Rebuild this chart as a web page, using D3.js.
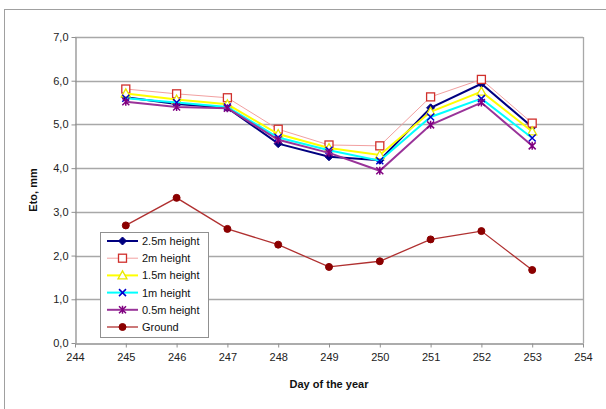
<!DOCTYPE html>
<html><head><meta charset="utf-8">
<script src="https://cdn.jsdelivr.net/npm/d3@7"></script>
<style>
html,body{margin:0;padding:0;background:#fff;}
text{font-family:"Liberation Sans",Arial,sans-serif;}
</style></head>
<body>
<svg id="chart" width="606" height="409"></svg>
<script>
const days = [245, 246, 247, 248, 249, 250, 251, 252, 253];
const seriesNames = ["2.5m height", "2m height", "1.5m height", "1m height", "0.5m height", "Ground"];
const h25 = [5.62, 5.47, 5.38, 4.56, 4.26, 4.18, 5.38, 5.93, 4.94];
const h20 = [5.81, 5.70, 5.61, 4.89, 4.53, 4.51, 5.63, 6.03, 5.03];
const h15 = [5.71, 5.57, 5.46, 4.78, 4.46, 4.30, 5.29, 5.75, 4.84];
const h10 = [5.60, 5.50, 5.40, 4.70, 4.41, 4.17, 5.17, 5.59, 4.69];
const h05 = [5.52, 5.40, 5.37, 4.65, 4.35, 3.94, 4.99, 5.50, 4.51];
const ground = [2.69, 3.32, 2.61, 2.25, 1.74, 1.87, 2.37, 2.56, 1.67];
const xTicks = [244, 245, 246, 247, 248, 249, 250, 251, 252, 253, 254];
const yTicks = [0, 1, 2, 3, 4, 5, 6, 7];

const styles = [
  {line:"#000080", lw:2, marker:"diamond", stroke:"#000080", fill:"#000080"},
  {line:"#f2a0a0", lw:1, marker:"square", stroke:"#d0302c", fill:"#fff"},
  {line:"#ffff00", lw:2, marker:"triangle", stroke:"#e8e800", fill:"#fff"},
  {line:"#00ffff", lw:2, marker:"x", stroke:"#0000cc", fill:"none"},
  {line:"#993399", lw:2, marker:"star", stroke:"#800080", fill:"none"},
  {line:"#b03030", lw:1.3, marker:"circle", stroke:"#8b0000", fill:"#8b0000"}
];
const allData = [h25, h20, h15, h10, h05, ground];

const svg = d3.select("#chart");
const L = 75, R = 583, T = 37, B = 343;
const x = d3.scaleLinear().domain([244, 254]).range([L, R]);
const y = d3.scaleLinear().domain([0, 7]).range([B, T]);

// outer frame
svg.append("rect").attr("x", 4.5).attr("y", 9.5).attr("width", 640).attr("height", 440)
  .attr("fill", "none").attr("stroke", "#a0a0a0").attr("stroke-width", 1);

// gridlines
svg.append("g").selectAll("line").data(yTicks.filter(d => d > 0)).join("line")
  .attr("x1", L).attr("x2", R).attr("y1", d => Math.round(y(d)) + 0.5).attr("y2", d => Math.round(y(d)) + 0.5)
  .attr("stroke", "#a8a8a8").attr("stroke-width", 1.3);
// right border
svg.append("line").attr("x1", R + 0.5).attr("x2", R + 0.5).attr("y1", T).attr("y2", B)
  .attr("stroke", "#a8a8a8").attr("stroke-width", 1.3);

// axes
const yAxis = d3.axisLeft(y).tickValues(yTicks).tickSize(4).tickSizeOuter(0)
  .tickFormat(d => d3.format(".1f")(d).replace(".", ","));
const gy = svg.append("g").attr("transform", `translate(${L + 0.5},0)`).call(yAxis);
const xAxis = d3.axisBottom(x).tickValues(xTicks).tickSize(4).tickSizeOuter(0).tickFormat(d3.format("d"));
const gx = svg.append("g").attr("transform", `translate(0,${Math.round(B) + 0.5})`).call(xAxis);
[gy, gx].forEach(g => {
  g.selectAll(".domain").attr("stroke", "#909090").attr("stroke-width", 1.3);
  g.selectAll(".tick line").attr("stroke", "#909090");
  g.selectAll("text").attr("font-size", 11).attr("fill", "#222");
});
gy.selectAll("text").attr("x", -7);
gx.selectAll("text").attr("y", 10);

// axis titles
svg.append("text").attr("x", (L + R) / 2).attr("y", 388).attr("text-anchor", "middle")
  .attr("font-size", 11).attr("font-weight", "bold").attr("fill", "#111").text("Day of the year");
svg.append("text").attr("transform", `translate(37,${(T + B) / 2}) rotate(-90)`).attr("text-anchor", "middle")
  .attr("font-size", 11).attr("font-weight", "bold").attr("fill", "#111").text("Eto, mm");

function drawMarker(g, type, st, cx, cy) {
  if (type === "diamond") {
    g.append("path").attr("d", `M${cx},${cy-4}L${cx+4},${cy}L${cx},${cy+4}L${cx-4},${cy}Z`)
      .attr("fill", st.fill).attr("stroke", st.stroke);
  } else if (type === "square") {
    g.append("rect").attr("x", cx - 4).attr("y", cy - 4).attr("width", 8).attr("height", 8)
      .attr("fill", st.fill).attr("stroke", st.stroke).attr("stroke-width", 1.3);
  } else if (type === "triangle") {
    g.append("path").attr("d", `M${cx},${cy-4.5}L${cx+4.5},${cy+3.5}L${cx-4.5},${cy+3.5}Z`)
      .attr("fill", st.fill).attr("stroke", st.stroke).attr("stroke-width", 1.3);
  } else if (type === "x") {
    g.append("path").attr("d", `M${cx-3.5},${cy-3.5}L${cx+3.5},${cy+3.5}M${cx-3.5},${cy+3.5}L${cx+3.5},${cy-3.5}`)
      .attr("stroke", st.stroke).attr("stroke-width", 1.5).attr("fill", "none");
  } else if (type === "star") {
    g.append("path").attr("d", `M${cx-3.5},${cy-3.5}L${cx+3.5},${cy+3.5}M${cx-3.5},${cy+3.5}L${cx+3.5},${cy-3.5}M${cx},${cy-4}L${cx},${cy+4}`)
      .attr("stroke", st.stroke).attr("stroke-width", 1.5).attr("fill", "none");
  } else if (type === "circle") {
    g.append("circle").attr("cx", cx).attr("cy", cy).attr("r", 3.5)
      .attr("fill", st.fill).attr("stroke", st.stroke);
  }
}

const line = d3.line().x((d, i) => x(days[i])).y(d => y(d));
allData.forEach((vals, si) => {
  const st = styles[si];
  const g = svg.append("g");
  g.append("path").datum(vals).attr("d", line).attr("fill", "none")
    .attr("stroke", st.line).attr("stroke-width", st.lw);
  vals.forEach((v, i) => drawMarker(g, st.marker, st, x(days[i]), y(v)));
});

// legend
const lg = svg.append("g");
lg.append("rect").attr("x", 100.5).attr("y", 232.5).attr("width", 108).attr("height", 105)
  .attr("fill", "#fff").attr("stroke", "#909090").attr("stroke-width", 1);
seriesNames.forEach((name, i) => {
  const st = styles[i];
  const cy = 241 + i * 17.2;
  lg.append("line").attr("x1", 107).attr("x2", 138).attr("y1", cy).attr("y2", cy)
    .attr("stroke", st.line).attr("stroke-width", st.lw);
  drawMarker(lg, st.marker, st, 122.5, cy);
  lg.append("text").attr("x", 142).attr("y", cy + 4).attr("font-size", 11).attr("fill", "#111").text(name);
});
</script>
</body></html>
